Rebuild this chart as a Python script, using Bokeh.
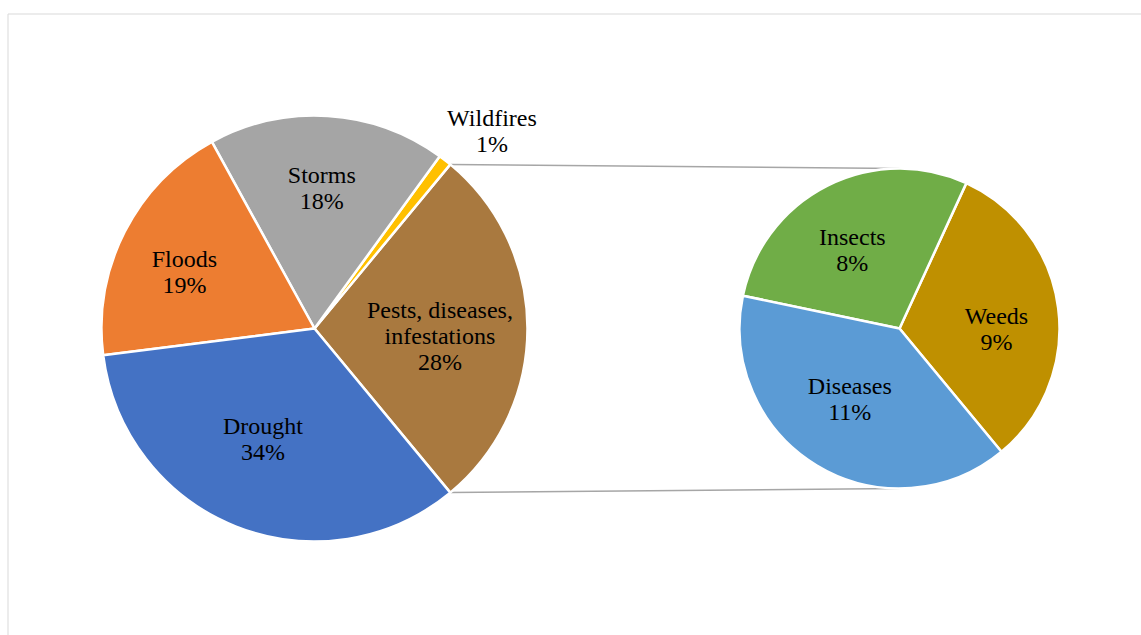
import math

from bokeh.core.properties import value
from bokeh.embed import file_html
from bokeh.models import ColumnDataSource, Range1d
from bokeh.plotting import figure
from bokeh.resources import INLINE

# Share of crop losses by cause (%); the first entry is split out in the second pie
main_labels = ["Pests, diseases,\ninfestations", "Wildfires", "Storms", "Floods", "Drought"]
main_values = [28, 1, 18, 19, 34]
main_colors = ["#A9793F", "#FFC000", "#A5A5A5", "#ED7D31", "#4472C4"]

# Breakdown of pests, diseases and infestations (%)
sub_labels = ["Weeds", "Insects", "Diseases"]
sub_values = [9, 8, 11]
sub_colors = ["#BF9000", "#70AD47", "#5B9BD5"]

# Label placement: radius fraction and angular nudge (degrees) for each slice
main_label_r = [0.59, 1.245, 0.66, 0.665, 0.573]
main_label_da = [-3.6, -4.2, 0.6, 3.7, -3.4]
sub_label_r = [0.606, 0.575, 0.54]
sub_label_da = [-7.5, 4.1, -4.0]

W, H = 1141, 635
C1, R1 = (314.0, 307.0), 213.0
C2, R2 = (899.0, 307.0), 160.0
FONT = value("Liberation Serif")

p = figure(width=W, height=H, x_range=Range1d(0, W), y_range=Range1d(0, H),
           output_backend="svg", toolbar_location=None,
           x_axis_type=None, y_axis_type=None, min_border=0,
           outline_line_color=None, background_fill_color="white",
           border_fill_color="white")
p.xgrid.visible = False
p.ygrid.visible = False

# Chart-area border
p.quad(left=7.5, right=W + 20, top=H - 13.5, bottom=-20,
       fill_color=None, line_color="#D9D9D9", line_width=1)


def slices(values, start, cx, cy, r, radii, nudges, labels, pct):
    total = sum(values)
    starts, ends, lx, ly, texts = [], [], [], [], []
    a = start
    for v, rf, da, lab, pc in zip(values, radii, nudges, labels, pct):
        span = 2 * math.pi * v / total
        starts.append(a)
        ends.append(a + span)
        mid = a + span / 2 + math.radians(da)
        lx.append(cx + rf * r * math.cos(mid))
        ly.append(cy + rf * r * math.sin(mid))
        texts.append(f"{lab}\n{pc}%")
        a += span
    return starts, ends, lx, ly, texts


main_total = sum(main_values)
start_main = -math.pi * main_values[0] / main_total
m_s, m_e, m_lx, m_ly, m_txt = slices(main_values, start_main, *C1, R1,
                                     main_label_r, main_label_da,
                                     main_labels, main_values)
s_s, s_e, s_lx, s_ly, s_txt = slices(sub_values, start_main, *C2, R2,
                                     sub_label_r, sub_label_da,
                                     sub_labels, sub_values)

# Connector lines from the split slice to the secondary pie
top_a, bot_a = m_e[0], m_s[0]
p.segment(x0=[C1[0] + R1 * math.cos(top_a), C1[0] + R1 * math.cos(bot_a)],
          y0=[C1[1] + R1 * math.sin(top_a), C1[1] + R1 * math.sin(bot_a)],
          x1=[C2[0], C2[0]], y1=[C2[1] + R2, C2[1] - R2],
          line_color="#A6A6A6", line_width=1.5)

main_src = ColumnDataSource(dict(start=m_s, end=m_e, color=main_colors,
                                 lx=m_lx, ly=m_ly, text=m_txt))
sub_src = ColumnDataSource(dict(start=s_s, end=s_e, color=sub_colors,
                                lx=s_lx, ly=s_ly, text=s_txt))

p.wedge(x=C1[0], y=C1[1], radius=R1, start_angle="start", end_angle="end",
        fill_color="color", line_color="white", line_width=2.5, source=main_src)
p.wedge(x=C2[0], y=C2[1], radius=R2, start_angle="start", end_angle="end",
        fill_color="color", line_color="white", line_width=2.5, source=sub_src)

for src in (main_src, sub_src):
    p.text(x="lx", y="ly", text="text", source=src, text_font=FONT,
           text_font_size="24px", text_color="#000000", text_align="center",
           text_baseline="middle", text_line_height=1.0)

open("out.html", "w").write(file_html(p, INLINE))
